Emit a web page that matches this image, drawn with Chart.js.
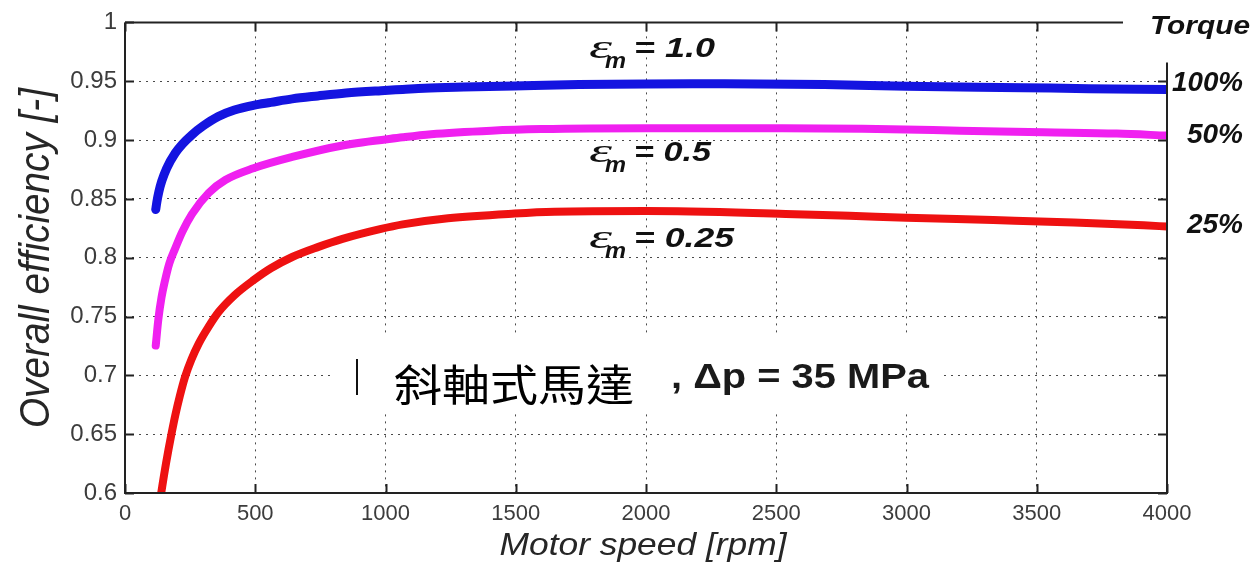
<!DOCTYPE html>
<html>
<head>
<meta charset="utf-8">
<script src="https://cdn.jsdelivr.net/npm/chart.js@4.4.1/dist/chart.umd.min.js"></script>
<style>
  html, body { margin: 0; padding: 0; background: #fff; }
  #wrap { width: 1257px; height: 564px; }
</style>
</head>
<body>
<div id="wrap"><canvas id="c" width="1257" height="564"></canvas></div>
<script>
// ---- data ----
const rpmFull = [118, 122, 130, 141, 160, 193, 220, 257, 300, 358, 420, 493, 560, 642, 740, 848, 983, 1066, 1149, 1300, 1495, 1742, 2000, 2300, 2685, 3000, 3449, 3700, 4000];
const effFull = [0.841, 0.847, 0.856, 0.865, 0.876, 0.889, 0.8965, 0.9045, 0.912, 0.920, 0.9255, 0.9295, 0.932, 0.935, 0.9375, 0.940, 0.942, 0.943, 0.944, 0.945, 0.946, 0.9472, 0.9477, 0.9478, 0.9472, 0.9458, 0.9445, 0.9437, 0.943];

const rpmHalf = [118, 128, 140, 154, 170, 193, 220, 257, 321, 385, 493, 642, 835, 1066, 1175, 1406, 1599, 2000, 2524, 2832, 3205, 3526, 3807, 4000];
const effHalf = [0.7253, 0.7476, 0.766, 0.781, 0.795, 0.808, 0.822, 0.837, 0.855, 0.866, 0.876, 0.8856, 0.8954, 0.9023, 0.905, 0.908, 0.9093, 0.910, 0.910, 0.9095, 0.908, 0.9066, 0.9055, 0.9038];

const rpmQuarter = [139, 150, 167, 180, 193, 210, 231, 255, 283, 320, 360, 420, 494, 560, 642, 740, 835, 983, 1066, 1240, 1495, 1649, 2000, 2536, 2781, 3000, 3333, 3642, 3911, 4000];
const effQuarter = [0.600, 0.6155, 0.637, 0.652, 0.666, 0.682, 0.699, 0.7135, 0.727, 0.741, 0.754, 0.768, 0.781, 0.791, 0.8006, 0.809, 0.816, 0.8245, 0.8283, 0.8335, 0.8375, 0.839, 0.8396, 0.8372, 0.8356, 0.834, 0.832, 0.830, 0.8275, 0.8265];

const seriesNames = ['ε_m = 1.0 (100%)', 'ε_m = 0.5 (50%)', 'ε_m = 0.25 (25%)'];
const xTickValues = [0, 500, 1000, 1500, 2000, 2500, 3000, 3500, 4000];
const xTickLabels = ['0', '500', '1000', '1500', '2000', '2500', '3000', '3500', '4000'];
const yTickValues = [0.6, 0.65, 0.7, 0.75, 0.8, 0.85, 0.9, 0.95, 1];
const yTickLabels = ['0.6', '0.65', '0.7', '0.75', '0.8', '0.85', '0.9', '0.95', '1'];
const xTitle = 'Motor speed [rpm]';
const yTitle = 'Overall efficiency [-]';
const epsLabels = ['1.0', '0.5', '0.25'];
const torqueLabels = ['100%', '50%', '25%'];
const noteCJK = '斜軸式馬達';
const noteRest = ', Δp = 35 MPa';

const toPts = (xs, ys) => xs.map((v, i) => ({ x: v, y: ys[i] }));

function fitText(ctx, text, x, y, font, width, align, sy) {
  ctx.save();
  ctx.font = font;
  const w = ctx.measureText(text).width;
  const s = width ? width / w : 1;
  ctx.translate(x, y);
  ctx.scale(s, sy || 1);
  ctx.textAlign = align || 'left';
  ctx.textBaseline = 'alphabetic';
  ctx.fillText(text, 0, 0);
  ctx.restore();
}

const overlay = {
  id: 'overlay',
  beforeDatasetsDraw(chart) {
    const ctx = chart.ctx;
    ctx.save();
    ctx.fillStyle = '#ffffff';
    ctx.fillRect(330, 337, 612, 73);
    ctx.restore();
  },
  afterDraw(chart) {
    const { ctx, chartArea: a, scales: { x, y } } = chart;
    ctx.save();
    ctx.strokeStyle = '#222';
    ctx.lineWidth = 2;
    ctx.beginPath();
    ctx.moveTo(a.left, a.top);
    ctx.lineTo(a.left, a.bottom);
    ctx.lineTo(a.right, a.bottom);
    ctx.lineTo(a.right, a.top + 40);
    ctx.moveTo(a.left, a.top);
    ctx.lineTo(a.right - 44, a.top);
    ctx.stroke();
    ctx.beginPath();
    xTickValues.forEach(v => {
      const px = Math.round(x.getPixelForValue(v)) + 0.5;
      ctx.moveTo(px, a.bottom); ctx.lineTo(px, a.bottom - 9);
      if (px < a.right - 44) { ctx.moveTo(px, a.top); ctx.lineTo(px, a.top + 9); }
    });
    yTickValues.forEach(v => {
      const py = Math.round(y.getPixelForValue(v)) + 0.5;
      ctx.moveTo(a.left, py); ctx.lineTo(a.left + 9, py);
      if (py > a.top + 40) { ctx.moveTo(a.right, py); ctx.lineTo(a.right - 9, py); }
    });
    ctx.stroke();

    ctx.fillStyle = '#262626';
    fitText(ctx, xTitle, 643, 555, 'italic 32px "Liberation Sans", Arial, sans-serif', 287, 'center');
    ctx.save();
    ctx.translate(49, 258);
    ctx.rotate(-Math.PI / 2);
    fitText(ctx, yTitle, 0, 0, 'italic 38px "Liberation Sans", Arial, sans-serif', 340, 'center', 1.12);
    ctx.restore();

    ctx.fillStyle = '#111';
    const epsBase = [57, 161, 247];
    const epsW = [81, 77, 100];
    epsLabels.forEach((lab, i) => {
      const b = epsBase[i];
      fitText(ctx, 'ε', 589, b + 1, 'italic 34px "Liberation Serif", serif', 23);
      fitText(ctx, 'm', 605, b + 11, 'italic bold 22px "Liberation Sans", Arial, sans-serif', 21);
      fitText(ctx, '= ' + lab, 634, b, 'italic bold 28px "Liberation Sans", Arial, sans-serif', epsW[i]);
    });

    fitText(ctx, 'Torque', 1150, 34, 'italic bold 26px "Liberation Sans", Arial, sans-serif', 100);
    const tqX = [1172, 1187, 1187];
    const tqB = [91, 143, 233];
    torqueLabels.forEach((lab, i) => {
      fitText(ctx, lab, tqX[i], tqB[i], 'italic bold 27px "Liberation Sans", Arial, sans-serif', 1243 - tqX[i]);
    });

    ctx.strokeStyle = '#111';
    ctx.lineWidth = 2;
    ctx.beginPath();
    ctx.moveTo(357, 359); ctx.lineTo(357, 395);
    ctx.stroke();
    ctx.fillStyle = '#000';
    fitText(ctx, noteCJK, 394, 401, '43px "Noto Sans CJK TC", "Noto Sans CJK SC", sans-serif', 240);
    ctx.fillStyle = '#1a1a1a';
    fitText(ctx, noteRest, 671, 388, 'bold 35px "Liberation Sans", Arial, sans-serif', 258);
    ctx.restore();
  }
};

const gridColor = (edgeVals) => (c) => {
  if (c.tick && edgeVals.some(v => Math.abs(v - c.tick.value) < 1e-9)) return 'rgba(0,0,0,0)';
  return '#4a4a4a';
};

new Chart(document.getElementById('c'), {
  type: 'line',
  data: {
    datasets: [
      { label: seriesNames[0], data: toPts(rpmFull, effFull), borderColor: '#1414e0', borderWidth: 9 },
      { label: seriesNames[1], data: toPts(rpmHalf, effHalf), borderColor: '#f020f0', borderWidth: 8 },
      { label: seriesNames[2], data: toPts(rpmQuarter, effQuarter), borderColor: '#ee1111', borderWidth: 8 }
    ]
  },
  options: {
    responsive: false,
    animation: false,
    devicePixelRatio: 1,
    layout: { padding: { left: 0, right: 90, top: 15, bottom: 0 } },
    elements: {
      point: { radius: 0, hoverRadius: 0 },
      line: { cubicInterpolationMode: 'monotone', borderCapStyle: 'round', borderJoinStyle: 'round', fill: false }
    },
    plugins: { legend: { display: false }, tooltip: { enabled: false }, title: { display: false } },
    scales: {
      x: {
        type: 'linear', min: 0, max: 4000,
        afterBuildTicks: s => { s.ticks = xTickValues.map(v => ({ value: v })); },
        afterFit: s => { s.height = 71; },
        ticks: {
          autoSkip: false, maxRotation: 0, padding: 8,
          color: '#3c3c3c',
          font: { family: '"Liberation Sans", Arial, sans-serif', size: 22 },
          callback: (v, i) => xTickLabels[i]
        },
        grid: { color: gridColor([0, 4000]), lineWidth: 1, drawTicks: false },
        border: { display: false, dash: [2, 5] }
      },
      y: {
        type: 'linear', min: 0.6, max: 1,
        afterBuildTicks: s => { s.ticks = yTickValues.map(v => ({ value: v })); },
        afterFit: s => { s.width = 125; },
        ticks: {
          autoSkip: false, padding: 8,
          color: '#3c3c3c',
          font: { family: '"Liberation Sans", Arial, sans-serif', size: 24 },
          callback: (v, i) => yTickLabels[i]
        },
        grid: { color: gridColor([0.6, 1]), lineWidth: 1, drawTicks: false },
        border: { display: false, dash: [2, 5] }
      }
    }
  },
  plugins: [overlay]
});
</script>
</body>
</html>
